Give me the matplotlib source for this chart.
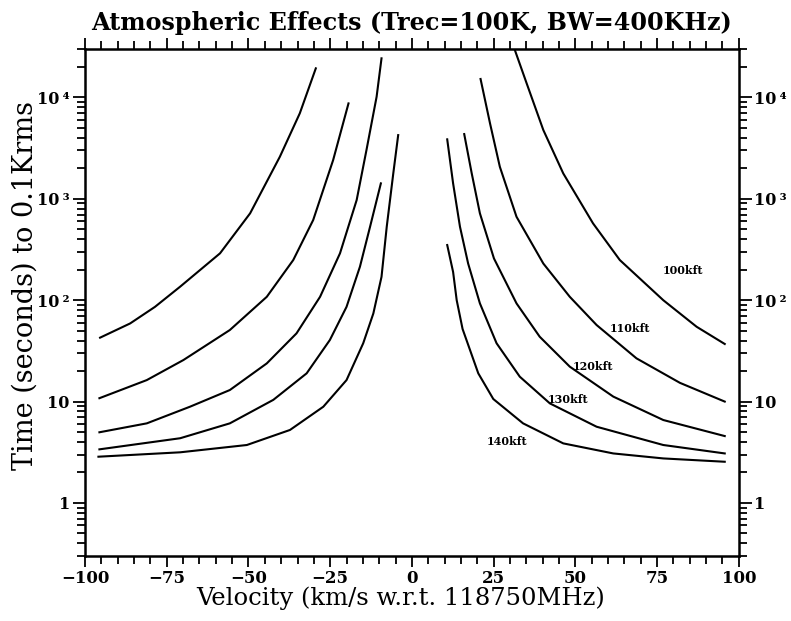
#!/usr/bin/env python3
"""Atmospheric effects: integration time vs velocity offset for several altitudes."""

import matplotlib

matplotlib.use("Agg")
import matplotlib.pyplot as plt
from matplotlib.ticker import FixedLocator, LogLocator, MultipleLocator, NullFormatter

# velocity (km/s) and time (s), one branch on each side of the line
V_LEFT_100 = [-95.4, -86.2, -78.6, -70.9, -58.7, -49.5, -40.4, -34.3, -29.4]
T_LEFT_100 = [42.7, 59, 86, 136, 290, 719, 2600, 6970, 19360]
V_RIGHT_100 = [31.5, 35.1, 40.2, 46.3, 55.4, 63.6, 76.9, 87.1, 95.7]
T_RIGHT_100 = [29300, 13770, 4770, 1780, 573, 249, 100, 54.7, 37]

V_LEFT_110 = [-95.6, -81.1, -69.9, -55.7, -44.4, -36.3, -30.2, -24.1, -19.4]
T_LEFT_110 = [10.8, 16.3, 25.7, 50.8, 108, 249, 618, 2410, 8730]
V_RIGHT_110 = [21.0, 23.9, 26.9, 32.0, 40.2, 48.3, 56.5, 68.7, 82.0, 95.7]
T_RIGHT_110 = [15200, 5540, 2070, 665, 230, 108, 56.9, 26.7, 15.3, 10.0]

V_LEFT_120 = [-95.6, -81.1, -67.9, -55.7, -44.4, -35.3, -28.1, -22.0, -16.9, -13.9, -10.8, -9.3]
T_LEFT_120 = [4.98, 6.1, 8.9, 13.0, 23.8, 47.1, 108, 290, 973, 3030, 10160, 24300]
V_RIGHT_120 = [16.0, 18.3, 20.8, 25.1, 32.0, 39.1, 48.3, 61.6, 76.9, 95.7]
T_RIGHT_120 = [4350, 1780, 719, 258, 93, 43.6, 22.1, 11.2, 6.58, 4.57]

V_LEFT_130 = [-95.6, -70.9, -55.7, -42.4, -32.2, -25.1, -20.0, -15.9, -12.8, -9.5]
T_LEFT_130 = [3.38, 4.35, 6.1, 10.4, 19, 40.5, 86, 214, 531, 1420]
V_RIGHT_130 = [10.8, 12.6, 14.7, 17.2, 20.8, 25.9, 33.0, 42.2, 56.5, 76.9, 95.7]
T_RIGHT_130 = [3860, 1420, 531, 230, 93, 37.6, 17.6, 9.6, 5.65, 3.73, 3.08]

V_LEFT_140 = [-95.9, -70.9, -50.5, -37.3, -27.1, -20.0, -14.9, -11.8, -9.3, -7.7, -5.7, -4.2]
T_LEFT_140 = [2.86, 3.16, 3.73, 5.25, 8.9, 16.3, 37.6, 74, 170, 531, 1780, 4250]
V_RIGHT_140 = [10.8, 12.6, 13.7, 15.5, 20.3, 24.9, 34.0, 46.3, 61.6, 76.9, 95.7]
T_RIGHT_140 = [350, 190, 100, 52, 19, 10.6, 6.1, 3.87, 3.08, 2.75, 2.55]

ALTITUDES = ["100kft", "110kft", "120kft", "130kft", "140kft"]
Y_TICKS = [1, 10, 100, 1000, 10000]
Y_TICK_LABELS = ["1", "10", "10\u2009\u00b2", "10\u2009\u00b3", "10\u2009\u2074"]

# where each altitude label sits (velocity, time)
LABEL_POS = {
    "100kft": (82.9, 198),
    "110kft": (66.7, 52.7),
    "120kft": (55.4, 22.4),
    "130kft": (47.8, 10.5),
    "140kft": (29.0, 4.0),
}

SERIF = ["DejaVu Serif"]


def main() -> int:
    branches = {
        "100kft": [(V_LEFT_100, T_LEFT_100), (V_RIGHT_100, T_RIGHT_100)],
        "110kft": [(V_LEFT_110, T_LEFT_110), (V_RIGHT_110, T_RIGHT_110)],
        "120kft": [(V_LEFT_120, T_LEFT_120), (V_RIGHT_120, T_RIGHT_120)],
        "130kft": [(V_LEFT_130, T_LEFT_130), (V_RIGHT_130, T_RIGHT_130)],
        "140kft": [(V_LEFT_140, T_LEFT_140), (V_RIGHT_140, T_RIGHT_140)],
    }

    plt.rcParams["font.family"] = SERIF
    fig = plt.figure(figsize=(7.91, 6.21), dpi=100)
    ax = fig.add_axes([0.1075, 0.1047, 0.8265, 0.8163])

    for alt in ALTITUDES:
        for v, t in branches[alt]:
            ax.plot(v, t, color="black", linewidth=1.5, solid_joinstyle="round")
        lx, ly = LABEL_POS[alt]
        ax.text(lx, ly, alt, fontsize=8, fontweight="bold", ha="center", va="center")

    ax.set_yscale("log")
    ax.set_xlim(-100, 100)
    ax.set_ylim(0.3, 3e4)

    ax.xaxis.set_major_locator(MultipleLocator(25))
    ax.xaxis.set_minor_locator(MultipleLocator(5))
    ax.yaxis.set_major_locator(FixedLocator(Y_TICKS))
    ax.set_yticklabels(Y_TICK_LABELS)
    ax.yaxis.set_minor_locator(LogLocator(base=10, subs=range(2, 10)))
    ax.yaxis.set_minor_formatter(NullFormatter())

    ax.tick_params(which="both", direction="out", top=True, right=True,
                   labelright=True, width=1.3, color="black")
    ax.tick_params(axis="x", which="major", length=8, pad=2, labelsize=12)
    ax.tick_params(axis="x", which="minor", length=6)
    ax.tick_params(axis="y", which="major", length=9, pad=2, labelsize=11.5)
    ax.tick_params(axis="y", which="minor", length=6)
    for lab in ax.get_xticklabels() + ax.get_yticklabels():
        lab.set_fontweight("bold")
    for spine in ax.spines.values():
        spine.set_linewidth(1.8)

    ax.set_xlabel("Velocity (km/s w.r.t. 118750MHz)", fontsize=17.5)
    ax.xaxis.set_label_coords(0.483, -0.061)
    ax.set_ylabel("Time (seconds) to 0.1Krms", fontsize=19.5)
    ax.yaxis.set_label_coords(-0.071, 0.533)
    ax.set_title("Atmospheric Effects (Trec=100K, BW=400KHz)", fontsize=17.2,
                 fontweight="bold", pad=14)

    fig.savefig("out.png", dpi=100)
    plt.close(fig)
    return 0


if __name__ == "__main__":
    raise SystemExit(main())
